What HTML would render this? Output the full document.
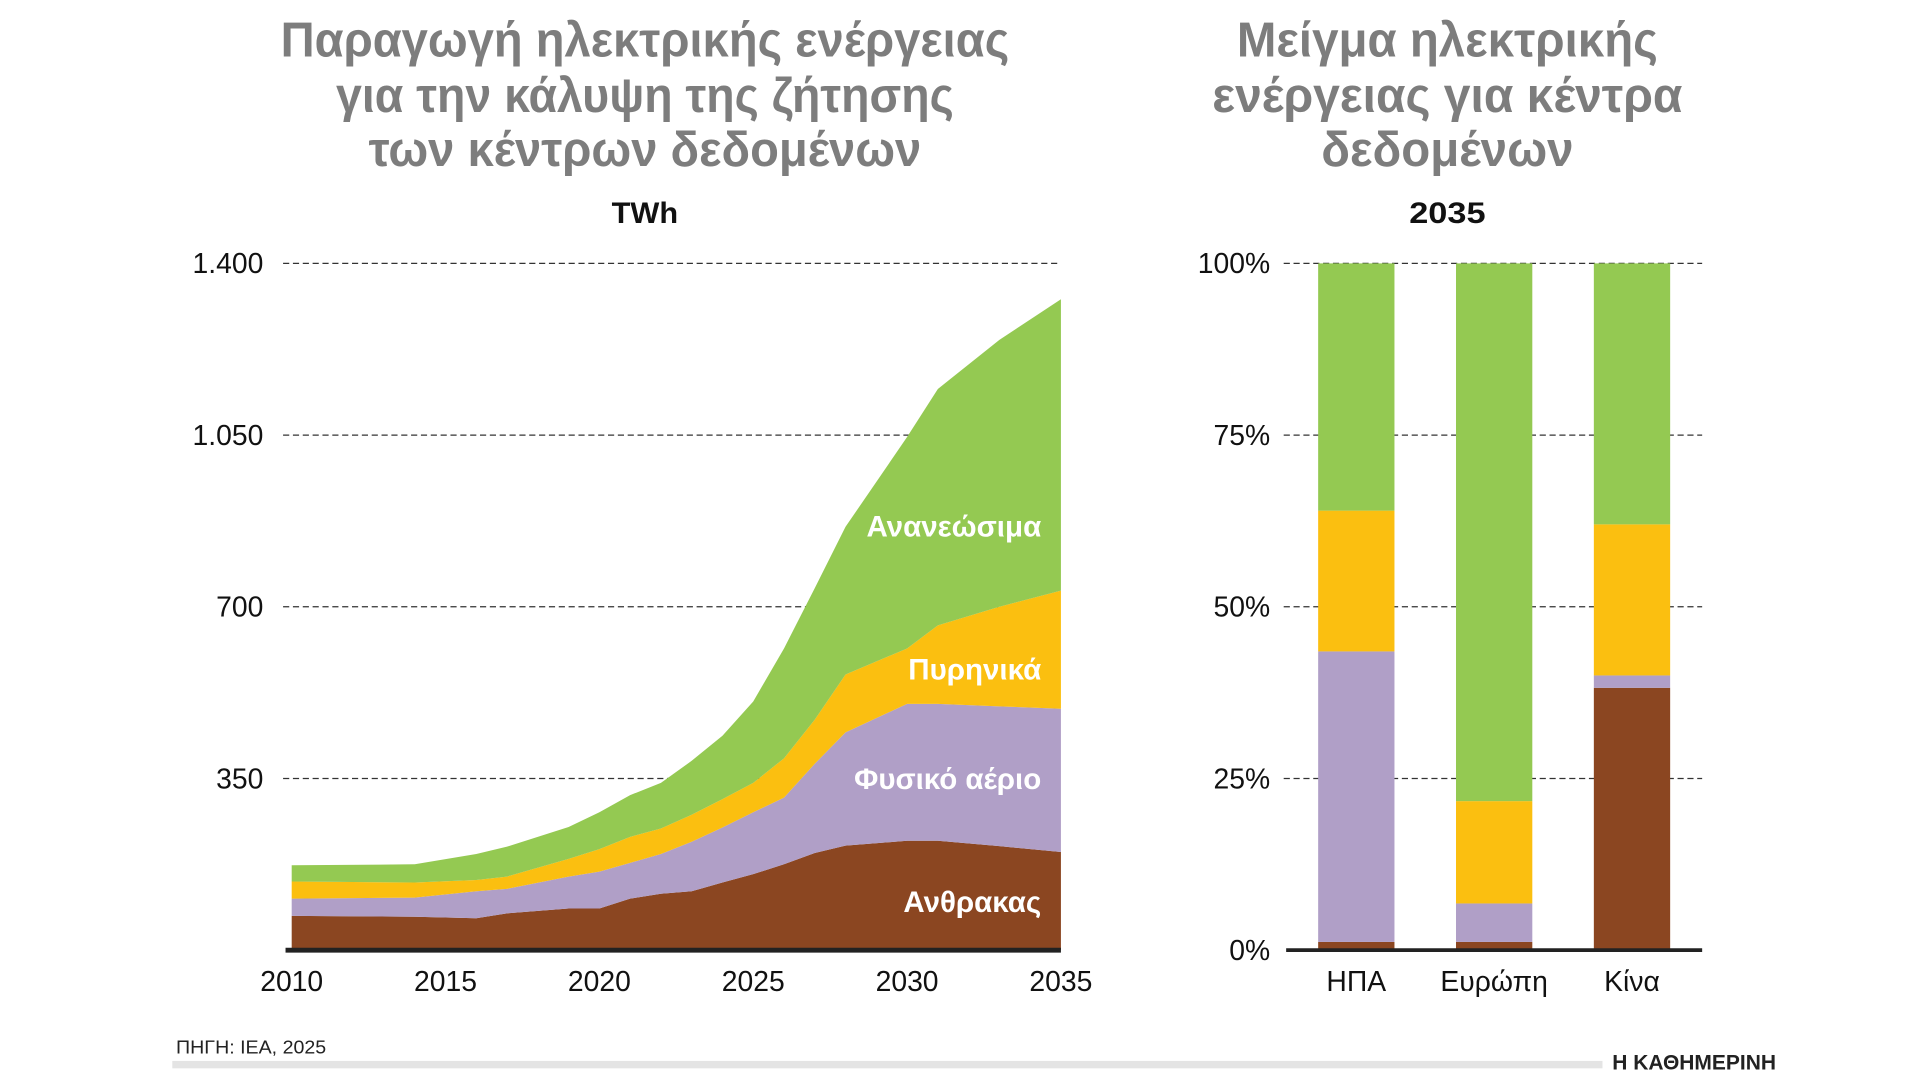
<!DOCTYPE html>
<html><head><meta charset="utf-8">
<style>
html,body{margin:0;padding:0;background:#fff;}
svg{display:block;}
text{font-family:"Liberation Sans","DejaVu Sans",sans-serif;}
</style></head>
<body>
<svg id="chart" width="1920" height="1080" viewBox="0 0 1560 877.5" preserveAspectRatio="none" xmlns="http://www.w3.org/2000/svg">
  <g fill="#7d7d7d" font-weight="bold" font-size="40" text-anchor="middle">
    <text x="524" y="46" textLength="592" lengthAdjust="spacingAndGlyphs">Παραγωγή ηλεκτρικής ενέργειας</text>
    <text x="524" y="91" textLength="502" lengthAdjust="spacingAndGlyphs">για την κάλυψη της ζήτησης</text>
    <text x="524" y="135" textLength="449" lengthAdjust="spacingAndGlyphs">των κέντρων δεδομένων</text>
  </g>
  <g fill="#7d7d7d" font-weight="bold" font-size="40" text-anchor="middle">
    <text x="1176" y="46" textLength="342" lengthAdjust="spacingAndGlyphs">Μείγμα ηλεκτρικής</text>
    <text x="1176" y="91" textLength="382" lengthAdjust="spacingAndGlyphs">ενέργειας για κέντρα</text>
    <text x="1176" y="135" textLength="205" lengthAdjust="spacingAndGlyphs">δεδομένων</text>
  </g>
  <text x="524" y="181" font-size="24" font-weight="bold" text-anchor="middle" fill="#111" textLength="54" lengthAdjust="spacingAndGlyphs">TWh</text>
  <text x="1176" y="181" font-size="24" font-weight="bold" text-anchor="middle" fill="#111" textLength="62" lengthAdjust="spacingAndGlyphs">2035</text>
  <g id="left"></g>
  <g id="right"></g>
  <text x="143" y="856" font-size="15" fill="#222" textLength="122" lengthAdjust="spacingAndGlyphs">ΠΗΓΗ: IEA, 2025</text>
  <rect x="140" y="862" width="1162" height="6" fill="#e4e4e4"/>
  <text x="1310" y="869" font-size="17" font-weight="bold" fill="#222" font-family="Liberation Serif, serif" textLength="133" lengthAdjust="spacingAndGlyphs">Η ΚΑΘΗΜΕΡΙΝΗ</text>
</svg>
<script>
const NS="http://www.w3.org/2000/svg";
// ---- Left chart data ----
const years=[2010,2014,2016,2017,2019,2020,2021,2022,2023,2024,2025,2026,2027,2028,2030,2031,2033,2035];
const coal=[70,68,65,75,85,85,105,115,120,138,155,175,198,213,223,223,212,200];
const gas=[35,39,55,50,65,75,73,81,101,112,126,136,182,231,279,279,285,292];
const nuclear=[35,31,23,25,36,46,53,52,55,58,60,80,90,118,113,160,203,241];
const renew=[33,37,53,61,65,75,85,93,110,129,166,224,268,301,431,482,544,594];
const yTicks=[350,700,1050,1400];
const yTickLabels=["350","700","1.050","1.400"];
const xTicks=[2010,2015,2020,2025,2030,2035];
const areaLabels=["Ανθρακας","Φυσικό αέριο","Πυρηνικά","Ανανεώσιμα"];
// ---- Right chart data ----
const regions=["ΗΠΑ","Ευρώπη","Κίνα"];
const coalShare=[1.2,1.2,38.2];
const gasShare=[42.3,5.6,1.8];
const nuclearShare=[20.5,14.9,22];
const renewShare=[36,78.3,38];
const pctTicks=[0,25,50,75,100];
const pctLabels=["0%","25%","50%","75%","100%"];

const colors=["#8b4621","#b09fc7","#fbbf10","#94c952"];
const xL=y=>237+(y-2010)*25;
const yL=v=>772-v*(558/1400);
function el(tag,attrs,parent){const e=document.createElementNS(NS,tag);for(const k in attrs)e.setAttribute(k,attrs[k]);parent.appendChild(e);return e;}

const L=document.getElementById('left');
yTicks.forEach((t,i)=>{
  const g=el('line',{x1:230,x2:862,y1:yL(t),y2:yL(t),stroke:'#333','stroke-width':1,'stroke-dasharray':'5,3'},L);
  
  
  const tx=el('text',{x:214,y:yL(t)+8,'font-size':23,'text-anchor':'end',fill:'#111'},L);
  
  
  tx.textContent=yTickLabels[i];
});
const series=[coal,gas,nuclear,renew];
const names=['coal-area','gas-area','nuclear-area','renewables-area'];
let base=years.map(()=>0);
series.forEach((s,si)=>{
  const top=base.map((b,i)=>b+s[i]);
  let d='M'+years.map((y,i)=>xL(y)+','+yL(top[i])).join('L');
  for(let i=years.length-1;i>=0;i--)d+='L'+xL(years[i])+','+yL(base[i]);
  d+='Z';
  const p=el('path',{d:d,fill:colors[si]},L);
  
  
  base=top;
});
const labelW=[112,152,108,142];
const labelY=[741,641,552,436];
areaLabels.forEach((lab,si)=>{
  const t=el('text',{x:846,y:labelY[si],'font-size':24,'font-weight':'bold','text-anchor':'end',fill:'#fff',textLength:labelW[si],lengthAdjust:'spacingAndGlyphs'},L);
  
  
  t.textContent=lab;
});
const ax=el('line',{x1:232,x2:862,y1:772,y2:772,stroke:'#222','stroke-width':4},L);


xTicks.forEach(t=>{
  const tx=el('text',{x:xL(t),y:805,'font-size':23,'text-anchor':'middle',fill:'#111'},L);
  
  
  tx.textContent=t;
});

// ---- Right chart ----
const R=document.getElementById('right');
const yR=v=>772-v*(558/100);
const barX=i=>1071+i*112;
pctTicks.forEach((t,i)=>{
  if(t>0){
    const g=el('line',{x1:1043,x2:1383,y1:yR(t),y2:yR(t),stroke:'#333','stroke-width':1,'stroke-dasharray':'5,3'},R);
    
    
  }
  const tx=el('text',{x:1032,y:yR(t)+8,'font-size':23,'text-anchor':'end',fill:'#111'},R);
  
  
  tx.textContent=pctLabels[i];
});
const shares=[coalShare,gasShare,nuclearShare,renewShare];
const segNames=['bar-coal','bar-gas','bar-nuclear','bar-renewables'];
regions.forEach((r,ri)=>{
  let b=0;
  shares.forEach((s,si)=>{
    const v=s[ri];
    const rc=el('rect',{x:barX(ri),width:62,y:yR(b+v),height:yR(b)-yR(b+v),fill:colors[si]},R);
    
    
    b+=v;
  });
  const tx=el('text',{x:barX(ri)+31,y:805,'font-size':23,'text-anchor':'middle',fill:'#111'},R);
  
  
  tx.textContent=r;
});
const ax2=el('line',{x1:1045,x2:1383,y1:772,y2:772,stroke:'#222','stroke-width':3},R);


</script>
</body></html>
